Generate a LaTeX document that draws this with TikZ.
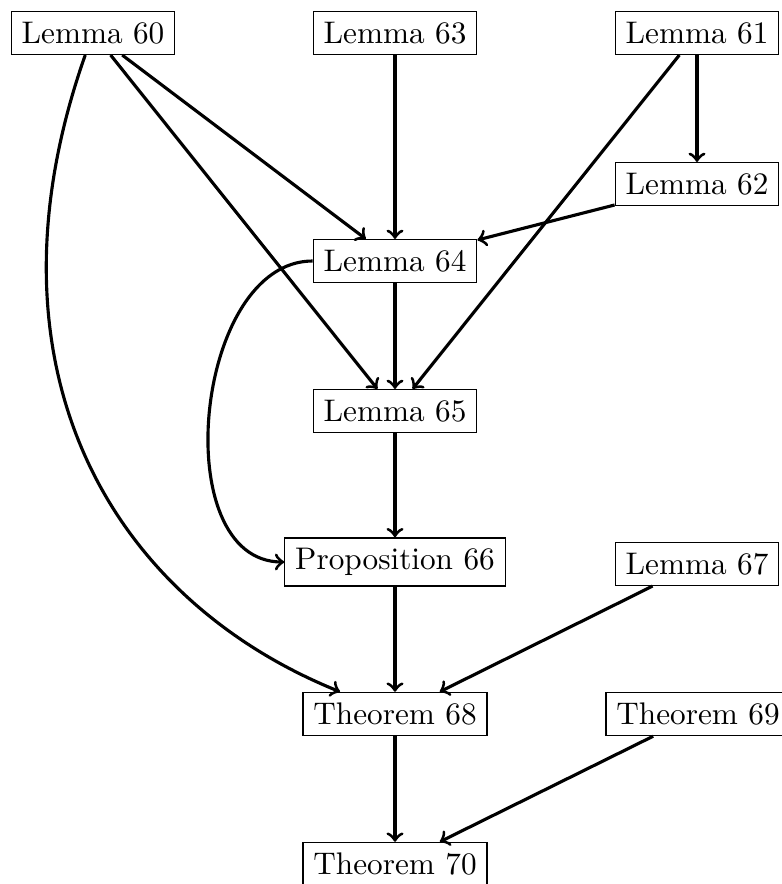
\documentclass[tikz,border=0pt]{standalone}
\begin{document}
\begin{tikzpicture}[x=0.32pt,y=-0.32pt,
  res/.style={draw, line width=0.4pt},
  dep/.style={->, line width=1pt}]
\useasboundingbox (0,0) rectangle (782,884);
% results
\node[res] (L60) at (93,33)   {Lemma 60};
\node[res] (L63) at (395,33)  {Lemma 63};
\node[res] (L61) at (697,33)  {Lemma 61};
\node[res] (L62) at (697,184) {Lemma 62};
\node[res] (L64) at (395,261) {Lemma 64};
\node[res] (L65) at (395,411) {Lemma 65};
\node[res] (P66) at (395,562) {Proposition 66};
\node[res] (L67) at (697,564) {Lemma 67};
\node[res] (T68) at (395,714) {Theorem 68};
\node[res] (T69) at (698,714) {Theorem 69};
\node[res] (T70) at (395,864) {Theorem 70};
% dependencies
\draw[dep] (L60) -- (L64);
\draw[dep] (L60) -- (L65);
\draw[dep] (L60) .. controls (-24,365) and (108,598) .. (T68);
\draw[dep] (L63) -- (L64);
\draw[dep] (L61) -- (L62);
\draw[dep] (L61) -- (L65);
\draw[dep] (L62) -- (L64);
\draw[dep] (L64) -- (L65);
\draw[dep] (L64) to[out=180,in=180] (P66);
\draw[dep] (L65) -- (P66);
\draw[dep] (P66) -- (T68);
\draw[dep] (L67) -- (T68);
\draw[dep] (T68) -- (T70);
\draw[dep] (T69) -- (T70);
\end{tikzpicture}
\end{document}
